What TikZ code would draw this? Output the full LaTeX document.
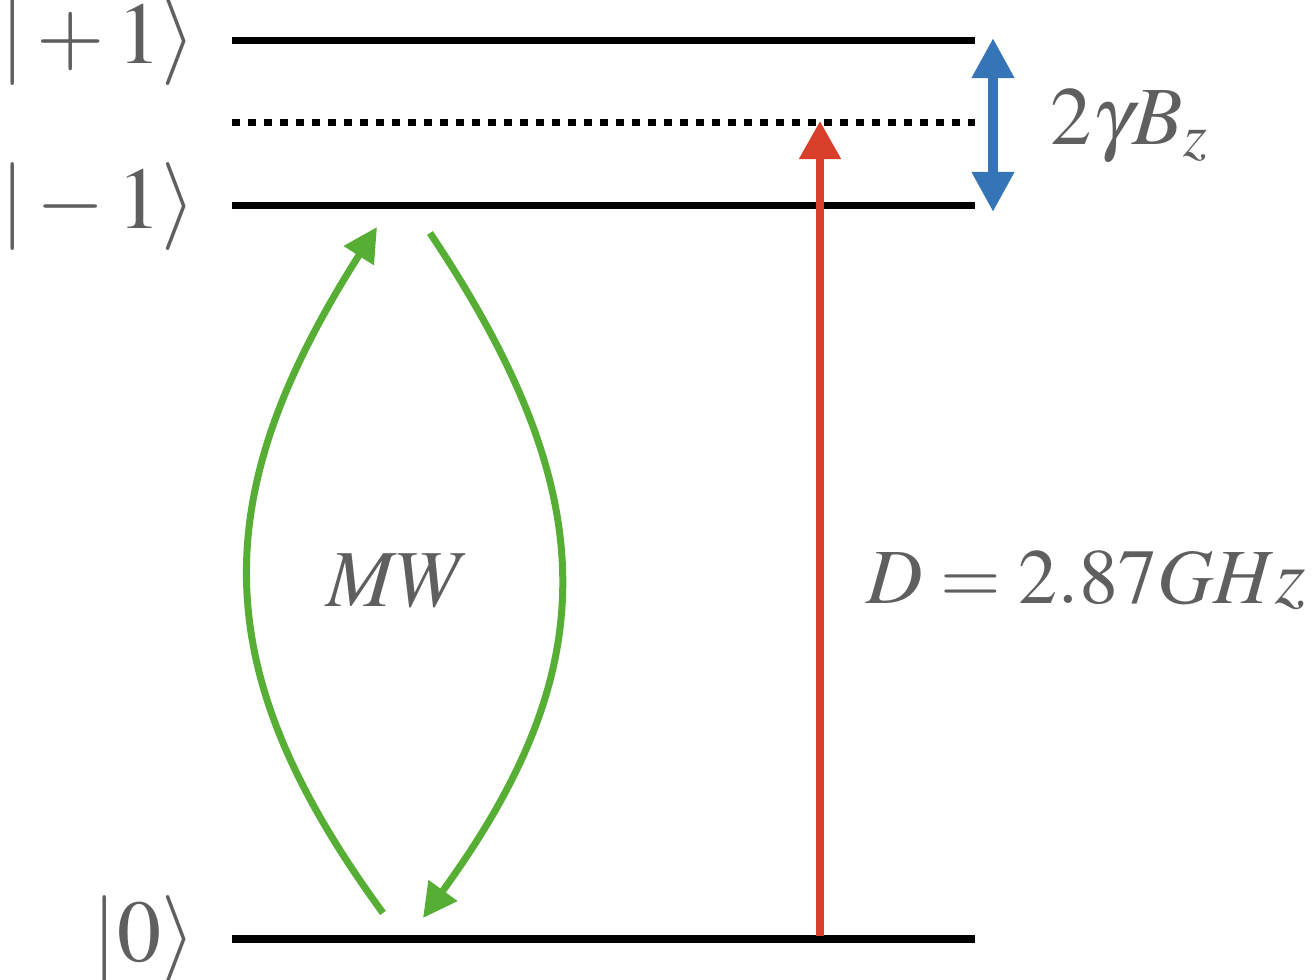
\documentclass[tikz,border=0pt]{standalone}
\usepackage{amsmath}
\usepackage{mathptmx}
\usepackage{tikz}
\usetikzlibrary{arrows.meta,positioning}
\definecolor{mwgreen}{RGB}{87,174,52}
\definecolor{dred}{RGB}{217,64,43}
\definecolor{zblue}{RGB}{53,117,183}
\definecolor{txtgray}{RGB}{95,95,95}

\begin{document}
\begin{tikzpicture}[x=0.01cm,y=-0.01cm]
                \tikzset{every node/.style={inner sep=0pt,text=txtgray,font=\fontsize{24}{28}\selectfont},
                  level/.style={black,line width=0.07cm},
                  ket/.style={anchor=east,font=\fontsize{25}{30}\selectfont},
                  mwarrow/.style={mwgreen,line width=0.07cm,-{Triangle[width=0.34cm,length=0.34cm]}}}
                \useasboundingbox (0,0) rectangle (1312,980);
                % energy levels
                \coordinate (p1l) at (232,41);  \coordinate (p1r) at (975,41);
                \coordinate (dl) at (232,123);  \coordinate (dr) at (975,123);
                \coordinate (m1l) at (232,206); \coordinate (m1r) at (975,206);
                \coordinate (z0l) at (232,939); \coordinate (z0r) at (975,939);
                \draw [level] (p1l) -- (p1r);
                \draw [level,dash pattern=on 0.075cm off 0.085cm] (dl) -- (dr);
                \draw [level] (m1l) -- (m1r);
                \draw [level] (z0l) -- (z0r);
                \node [ket] (kp1) at (196,42) {$|+1\rangle$};
                \node [ket] (km1) at (196,207) {$|-1\rangle$};
                \node [ket] (k0) at (196,940) {$|0\rangle$};
                % zeeman splitting
                \coordinate (bt) at (993,38);
                \coordinate (bb) at (993,212);
                \draw [zblue,line width=0.1cm,{Triangle[width=0.4cm,length=0.4cm]}-{Triangle[width=0.4cm,length=0.4cm]}] (bb) -- (bt);
                \node [anchor=west,font=\fontsize{23.5}{28}\selectfont] (zee) at (1050,126) {$2\gamma B_z$};
                % zero field splitting
                \coordinate (rb) at (820,936);
                \coordinate (rt) at (820,121);
                \draw [dred,line width=0.08cm,-{Triangle[width=0.4cm,length=0.38cm]}] (rb) -- (rt);
                \node [anchor=west,font=\fontsize{22.2}{26}\selectfont] (zfs) at (866,580) {$D=2.87GHz$};
                % microwave driving
                \coordinate (ga) at (383,913); \coordinate (gb) at (377,227);
                \coordinate (gc) at (430,233); \coordinate (gd) at (423,918);
                \draw [mwarrow] (ga) .. controls (205,670) and (205,497) .. (gb);
                \draw [mwarrow] (gc) .. controls (605,495) and (605,668) .. (gd);
                \node [font=\fontsize{23}{27}\selectfont] (mw) at (398,581) {$MW$};
            \end{tikzpicture}
\end{document}
